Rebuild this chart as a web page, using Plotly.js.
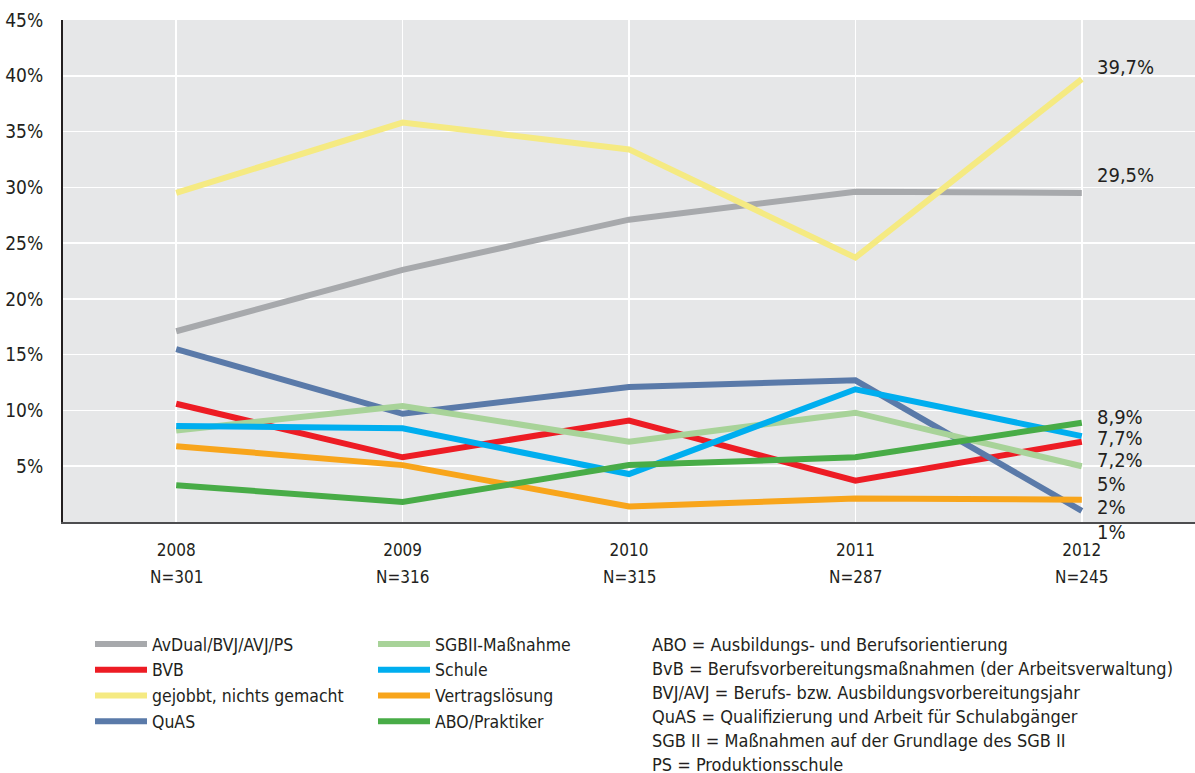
<!DOCTYPE html>
<html>
<head>
<meta charset="utf-8">
<script src="https://cdn.plot.ly/plotly-3.0.1.min.js"></script>
<style>
  html, body { margin: 0; padding: 0; background: #fff; }
  #chart { width: 1195px; height: 773px; }
</style>
</head>
<body>
<div id="chart"></div>
<script>
// Categories and sample sizes
const years = ['2008', '2009', '2010', '2011', '2012'];
const sampleSizes = ['N=301', 'N=316', 'N=315', 'N=287', 'N=245'];
const yTicks = [5, 10, 15, 20, 25, 30, 35, 40, 45];

// Shares in percent per year
const avDual = [17.1, 22.6, 27.1, 29.6, 29.5];
const bvb = [10.6, 5.8, 9.1, 3.7, 7.2];
const gejobbt = [29.5, 35.8, 33.4, 23.7, 39.7];
const quas = [15.5, 9.7, 12.1, 12.7, 1];
const sgb = [8.2, 10.4, 7.2, 9.8, 5];
const schule = [8.6, 8.4, 4.3, 11.9, 7.7];
const vertrag = [6.8, 5.1, 1.4, 2.1, 2];
const abo = [3.3, 1.8, 5.1, 5.8, 8.9];

const seriesNames = ['AvDual/BVJ/AVJ/PS', 'BVB', 'gejobbt, nichts gemacht', 'QuAS',
                     'SGBII-Maßnahme', 'Schule', 'Vertragslösung', 'ABO/Praktiker'];

// Abbreviation notes below the chart
const notes = [
  'ABO = Ausbildungs- und Berufsorientierung',
  'BvB = Berufsvorbereitungsmaßnahmen (der Arbeitsverwaltung)',
  'BVJ/AVJ = Berufs- bzw. Ausbildungsvorbereitungsjahr',
  'QuAS = Qualifizierung und Arbeit für Schulabgänger',
  'SGB II = Maßnahmen auf der Grundlage des SGB II',
  'PS = Produktionsschule'
];

const series = [avDual, bvb, gejobbt, quas, sgb, schule, vertrag, abo];
const colors = ['#a7a9ac', '#ed1c24', '#f5ea82', '#5a7aa9', '#a8d399', '#00aeef', '#f8a51b', '#48ac47'];
// vertical nudges (px) that keep the stacked end labels apart
const endShift = [18, -18, 12, -21, -18, -2, -7, 6];

const FONT = '"Liberation Sans Narrow", "Arial Narrow", "DejaVu Sans Condensed", sans-serif';
const INK = '#231f20';

const xIdx = years.map((_, i) => i);

const traces = series.map((vals, i) => ({
  type: 'scatter',
  mode: 'lines',
  x: xIdx,
  y: vals,
  name: seriesNames[i],
  line: { color: colors[i], width: 6 },
  legend: i < 4 ? 'legend' : 'legend2',
  hoverinfo: 'skip'
}));

// plot area geometry for placing notes
const L = 63, T = 20, B = 522, W = 1195, H = 773;
const py = p => (B - p) / (B - T);
const px = p => (p - L) / (W - L);

const fmt = v => String(v).replace('.', ',') + '%';

const annotations = [];
series.forEach((vals, i) => {
  const v = vals[vals.length - 1];
  annotations.push({
    xref: 'x', yref: 'y', x: xIdx[xIdx.length - 1], y: v,
    text: fmt(v), showarrow: false, xanchor: 'left', yanchor: 'middle',
    xshift: 13, yshift: endShift[i],
    font: { family: FONT, size: 20, color: INK }
  });
});
sampleSizes.forEach((s, i) => {
  annotations.push({
    xref: 'x', yref: 'paper', x: xIdx[i], y: py(577),
    text: s, showarrow: false, xanchor: 'center', yanchor: 'middle',
    font: { family: FONT, size: 17, color: INK }
  });
});
notes.forEach((t, i) => {
  annotations.push({
    xref: 'paper', yref: 'paper', x: px(650), y: py(644 + i * 24.1),
    text: t, showarrow: false, xanchor: 'left', yanchor: 'middle',
    font: { family: FONT, size: 18, color: INK }
  });
});

const legendBase = {
  xref: 'container', yref: 'container',
  yanchor: 'top', xanchor: 'left',
  orientation: 'v',
  bgcolor: 'rgba(0,0,0,0)',
  font: { family: FONT, size: 17.5, color: INK },
  itemwidth: 52,
  itemclick: false, itemdoubleclick: false
};

const layout = {
  width: 1195, height: 773,
  margin: { l: L, r: 0, t: T, b: H - B, pad: 0, autoexpand: false },
  paper_bgcolor: '#ffffff',
  plot_bgcolor: '#e6e7e8',
  showlegend: true,
  legend: Object.assign({}, legendBase, { x: 90 / W, y: 1 - 626 / H }),
  legend2: Object.assign({}, legendBase, { x: 373 / W, y: 1 - 626 / H }),
  xaxis: {
    range: [-0.5, 4.5],
    tickvals: xIdx, ticktext: years,
    showgrid: true, gridcolor: '#ffffff', gridwidth: 1.5,
    zeroline: false,
    showline: true, linecolor: '#4d4d4f', linewidth: 2,
    ticks: '', ticklabelstandoff: 12,
    tickfont: { family: FONT, size: 17, color: INK },
    fixedrange: true
  },
  yaxis: {
    range: [0, 45],
    tickvals: yTicks,
    ticktext: yTicks.map(v => v + '%'),
    showgrid: true, gridcolor: '#ffffff', gridwidth: 1.5,
    zeroline: false,
    showline: true, linecolor: '#231f20', linewidth: 2,
    ticks: '', ticklabelstandoff: 14,
    tickfont: { family: FONT, size: 19, color: INK },
    fixedrange: true
  },
  annotations: annotations
};

Plotly.newPlot('chart', traces, layout, { displayModeBar: false, staticPlot: true });
</script>
</body>
</html>
